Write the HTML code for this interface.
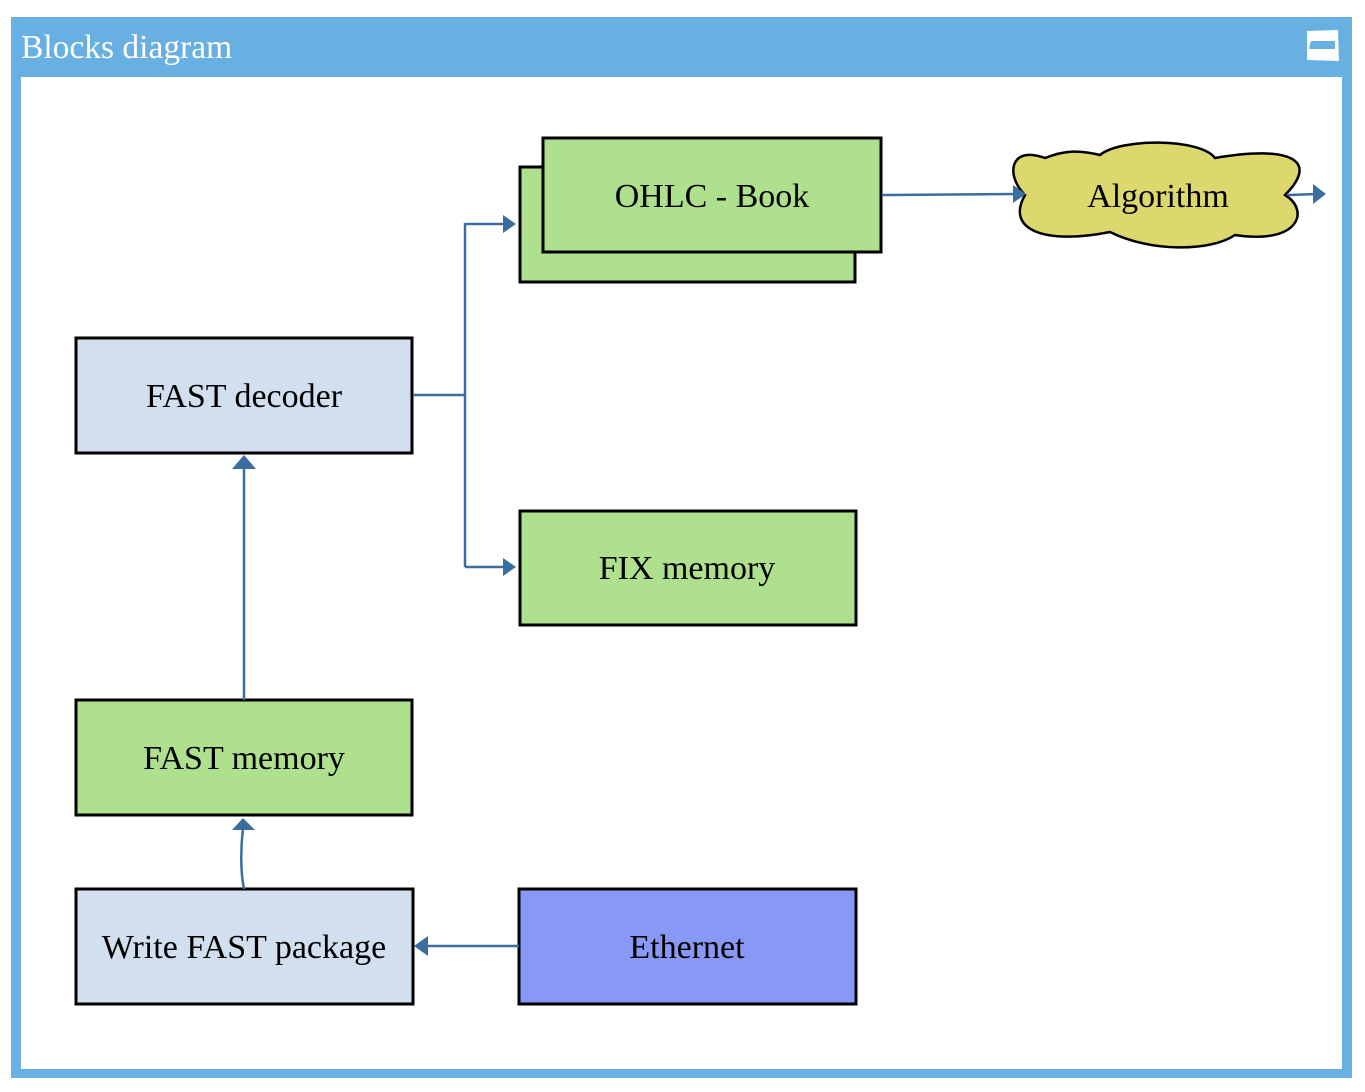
<!DOCTYPE html>
<html><head><style>
html,body{margin:0;padding:0;background:#fff;width:1365px;height:1092px;overflow:hidden}
svg{display:block}
text{font-family:"Liberation Serif",serif}
</style></head><body>
<svg width="1365" height="1092" viewBox="0 0 1365 1092">
<rect x="11" y="17" width="1341" height="1061" fill="#68afe2"/>
<rect x="21" y="77" width="1321" height="992" fill="#fff"/>
<text x="21" y="58" font-size="33.5" fill="#fff">Blocks diagram</text>
<path d="M1307 31 L1338 30 L1339 61 L1307 60 Z" fill="#fff"/>
<path d="M1311 41 L1335 41 L1335 49 L1309 49 Z" fill="#68afe2"/>
<g stroke="#000" stroke-width="3">
<rect x="520" y="167" width="335" height="115" fill="#afe08d"/>
<rect x="543" y="138" width="338" height="114" fill="#afe08d"/>
<rect x="76" y="338" width="336" height="115" fill="#d2dfee"/>
<rect x="520" y="511" width="336" height="114" fill="#afe08d"/>
<rect x="76" y="700" width="336" height="115" fill="#afe08d"/>
<rect x="76" y="889" width="337" height="115" fill="#d2dfee"/>
<rect x="519" y="889" width="337" height="115" fill="#8898f5"/>
<path d="M1045 158 C1010 145,1005 175,1025 195 C1005 230,1045 245,1110 232 C1150 252,1210 252,1235 235 C1300 245,1310 210,1285 195 C1320 160,1290 145,1215 158 C1200 138,1120 138,1100 155 C1080 150,1065 150,1045 158 Z" fill="#dcd86e" stroke-width="2.5"/>
</g>
<g font-size="34" text-anchor="middle" fill="#000">
<text x="712" y="207">OHLC - Book</text>
<text x="1158" y="207">Algorithm</text>
<text x="244" y="407">FAST decoder</text>
<text x="687" y="579">FIX memory</text>
<text x="244" y="769">FAST memory</text>
<text x="244" y="958">Write FAST package</text>
<text x="687" y="958">Ethernet</text>
</g>
<g stroke="#3a6ea0" stroke-width="2.5" fill="none">
<path d="M413 395 L465 395 M465 223 L465 567 M465 224 L510 224 M465 567 L510 567"/>
<path d="M882 195 L1018 194"/>
<path d="M1288 195 L1318 194"/>
<path d="M244 700 L244 465"/>
<path d="M244 889 C240 870,241 845,243 828"/>
<path d="M519 946 L425 946"/>
</g>
<g fill="#3a6ea0">
<path d="M503 215 L516 224 L503 233 Z"/>
<path d="M503 558 L516 567 L503 576 Z"/>
<path d="M1013 185 L1026 194 L1013 203 Z"/>
<path d="M1313 184 L1326 194 L1313 204 Z"/>
<path d="M232 469 L244 455 L256 469 Z"/>
<path d="M232 830 L243 818 L255 830 Z"/>
<path d="M428 936 L414 946 L428 956 Z"/>
</g>
</svg>
</body></html>
